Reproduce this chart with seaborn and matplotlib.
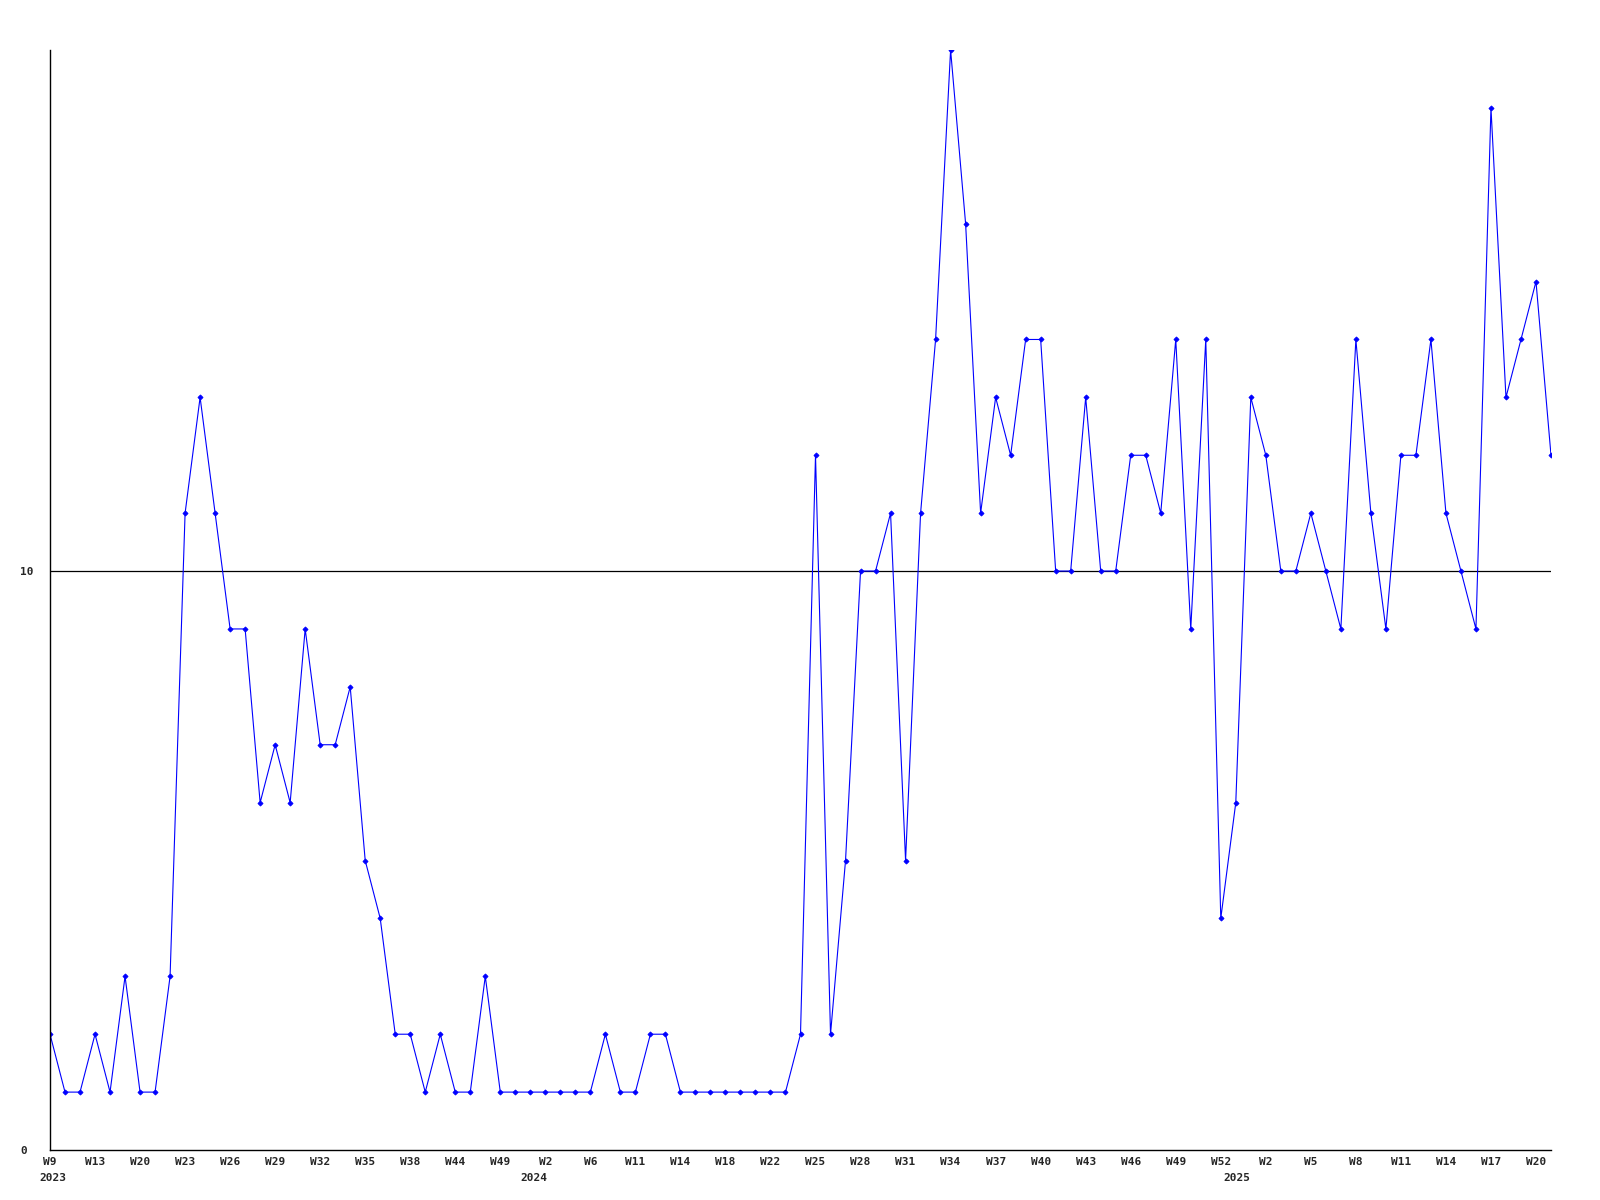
import matplotlib
matplotlib.use("Agg")
import matplotlib.pyplot as plt
import matplotlib.transforms as mtransforms
import seaborn as sns
import pandas as pd

# weekly counts, one point per reported week (gaps in weeks are not shown)
values = [2, 1, 1, 2, 1, 3, 1, 1, 3, 11, 13,
          11, 9, 9, 6, 7, 6, 9, 7, 7, 8,
          5, 4, 2, 2, 1, 2, 1, 1, 3, 1,
          1, 1, 1, 1, 1, 1, 2, 1, 1, 2,
          2, 1, 1, 1, 1, 1, 1, 1, 1, 2,
          12, 2, 5, 10, 10, 11, 5, 11, 14, 19,
          16, 11, 13, 12, 14, 14, 10, 10, 13, 10,
          10, 12, 12, 11, 14, 9, 14, 4, 6, 13,
          12, 10, 10, 11, 10, 9, 14, 11, 9, 12,
          12, 14, 11, 10, 9, 18, 13, 14, 15, 12]

week_labels = ["W9", "W13", "W20", "W23", "W26", "W29", "W32", "W35", "W38", "W44",
               "W49", "W2", "W6", "W11", "W14", "W18", "W22", "W25", "W28", "W31",
               "W34", "W37", "W40", "W43", "W46", "W49", "W52", "W2", "W5", "W8",
               "W11", "W14", "W17", "W20"]

years = ["2023", "2024", "2025"]
year_pos = [0.2, 32.25, 79.1]

df = pd.DataFrame({"idx": range(len(values)), "count": values})

sns.set_style("white")
plt.rcParams['font.family'] = ['DejaVu Sans Mono']

fig = plt.figure(figsize=(16, 12), dpi=100)
ax = fig.add_axes([50 / 1600, 50 / 1200, 1501 / 1600, 1100 / 1200])

sns.lineplot(data=df, x="idx", y="count", ax=ax, color="#0000ff", linewidth=0.8,
             marker="D", markersize=2.6, markeredgewidth=0.6, markeredgecolor="#0000ff")

ax.set_xlim(0, len(values) - 1)
ax.set_ylim(0, 19)

ax.set_xticks(range(0, 3 * len(week_labels), 3))
ax.set_xticklabels(week_labels, fontsize=8, fontweight="bold")
ax.set_yticks([0, 10])
ax.set_yticklabels(["0", "10"], fontsize=8, fontweight="bold")
for lab in ax.get_yticklabels():
    lab.set_horizontalalignment("left")
ax.tick_params(axis="y", length=0, pad=21.6)
ax.tick_params(axis="x", length=0, pad=5)

ax.axhline(10, color="black", linewidth=0.9, zorder=0)

trans = mtransforms.blended_transform_factory(ax.transData, ax.transAxes)
for yr, xp in zip(years, year_pos):
    ax.text(xp, -0.021, yr, transform=trans, ha="center", va="top",
            fontsize=8, fontweight="bold")

ax.set_xlabel("")
ax.set_ylabel("")
for side in ["top", "right"]:
    ax.spines[side].set_visible(False)
for side in ["left", "bottom"]:
    ax.spines[side].set_color("black")
    ax.spines[side].set_linewidth(1.0)

fig.savefig("out.png", dpi=100, facecolor="white")
